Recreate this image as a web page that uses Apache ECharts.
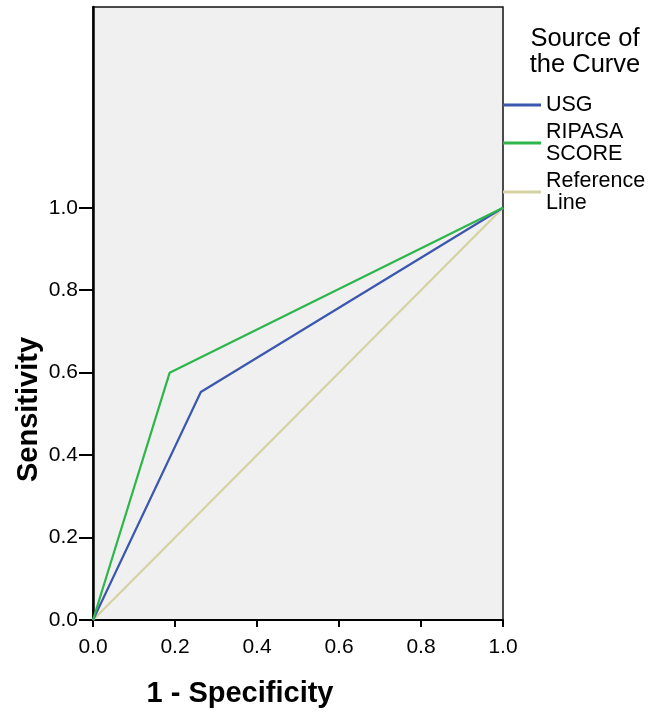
<!DOCTYPE html>
<html>
<head>
<meta charset="utf-8">
<script src="https://cdn.jsdelivr.net/npm/echarts@6/dist/echarts.min.js"></script>
<style>html,body{margin:0;padding:0;background:#fff;}#c{width:654px;height:713px;}</style>
</head>
<body>
<div id="c"></div>
<script>
const seriesNames = ['USG', 'RIPASA SCORE', 'Reference Line'];
const usgX = [0, 0.263, 1];
const usgY = [0, 0.553, 1];
const ripasaX = [0, 0.187, 1];
const ripasaY = [0, 0.6, 1];
const refX = [0, 1];
const refY = [0, 1];
const tickValues = [0, 0.2, 0.4, 0.6, 0.8, 1.0];
const colors = ['#3B57AE', '#2FB64A', '#D6D2A2'];

const pts = (xs, ys) => xs.map((x, i) => [x, ys[i]]);
const chart = echarts.init(document.getElementById('c'));
const FONT = 'Liberation Sans, Arial, sans-serif';
chart.setOption({
  animation: false,
  color: colors,
  grid: { left: 93, right: 151, top: 7, bottom: 93, outerBoundsMode: 'none', containLabel: false, show: true, backgroundColor: '#F0F0F0', borderColor: '#111', borderWidth: 1.5 },
  title: {
    text: 'Source of\nthe Curve', left: 585, top: 26, textAlign: 'center', padding: 0,
    textStyle: { fontFamily: FONT, fontSize: 25.5, fontWeight: 'normal', color: '#000', lineHeight: 26 }
  },
  legend: {
    orient: 'vertical', left: 503, top: 94, padding: 0, itemWidth: 38, itemHeight: 3, itemGap: 5, itemTextGap: 11,
    icon: 'rect', selectedMode: false,
    data: seriesNames,
    formatter: n => n.replace(' ', '\n'),
    textStyle: { fontFamily: FONT, fontSize: 21.5, color: '#000', lineHeight: 22 }
  },
  xAxis: {
    type: 'value', min: 0, max: 1, interval: 0.2,
    name: '1 - Specificity', nameLocation: 'middle', nameGap: 59, nameMoveOverlap: false,
    nameTextStyle: { fontFamily: FONT, fontSize: 29, fontWeight: 'bold', color: '#000', padding: [0, 116, 0, 0] },
    axisLine: { show: true, onZero: false, lineStyle: { color: '#000', width: 2 } },
    axisTick: { show: true, length: 7, lineStyle: { color: '#000', width: 2 } },
    axisLabel: { fontFamily: FONT, fontSize: 21, color: '#000', margin: 17, formatter: v => v.toFixed(1) },
    splitLine: { show: false }
  },
  yAxis: {
    type: 'value', min: 0, max: 1.487,
    name: 'Sensitivity', nameLocation: 'middle', nameGap: 50, nameRotate: 90, nameMoveOverlap: false,
    nameTextStyle: { fontFamily: FONT, fontSize: 29, fontWeight: 'bold', color: '#000', padding: [0, 192, 0, 0] },
    axisLine: { show: true, onZero: false, lineStyle: { color: '#000', width: 2.5 } },
    axisTick: { show: true, length: 14, customValues: tickValues, lineStyle: { color: '#000', width: 2 } },
    axisLabel: { fontFamily: FONT, fontSize: 21, color: '#000', margin: 15, customValues: tickValues, formatter: v => v.toFixed(1) },
    splitLine: { show: false }
  },
  series: [
    { name: seriesNames[0], type: 'line', data: pts(usgX, usgY), symbol: 'none', lineStyle: { width: 2.2, color: colors[0] }, z: 3 },
    { name: seriesNames[1], type: 'line', data: pts(ripasaX, ripasaY), symbol: 'none', lineStyle: { width: 2.2, color: colors[1] }, z: 4 },
    { name: seriesNames[2], type: 'line', data: pts(refX, refY), symbol: 'none', lineStyle: { width: 2.2, color: colors[2] }, z: 2 }
  ]
});
</script>
</body>
</html>
